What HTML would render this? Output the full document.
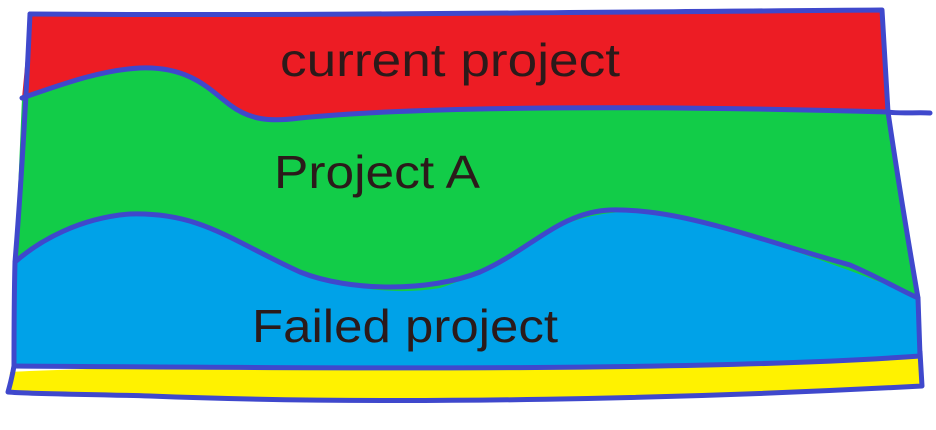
<!DOCTYPE html>
<html><head><meta charset="utf-8"><style>
html,body{margin:0;padding:0;background:#fff;width:936px;height:430px;overflow:hidden}
text{font-family:"Liberation Sans","DejaVu Sans",sans-serif;fill:#2b1a1a}
</style></head><body>
<svg width="936" height="430" viewBox="0 0 936 430" xmlns="http://www.w3.org/2000/svg">
<path d="M10,372 C200,362 600,368 920,352 L922,386 C700,398 400,406 150,396 C80,394 30,394 8,392 Z" fill="#FFF200"/>
<path d="M15,262 C40,240 80,218 130,214 C200,212 230,240 300,272 C350,292 430,292 480,272 C530,250 560,212 610,210 C680,208 760,240 850,265 C880,278 900,290 918,298 L920,356 C700,372 300,368 14,366 Z" fill="#00A2E8"/>
<path d="M22,98 C60,85 100,70 140,68 C190,66 210,90 230,105 C250,120 270,122 300,118 C400,108 600,104 890,112 L916,296 C880,282 800,250 700,222 C640,206 600,210 560,226 C520,244 490,272 440,288 C380,298 320,282 280,262 C230,238 210,216 150,214 C90,214 50,232 15,262 Z" fill="#12CC48"/>
<path d="M30,14 C300,16 600,12 882,10 L888,112 C600,104 400,108 300,118 C270,122 250,120 230,105 C210,90 190,66 140,68 C100,70 60,85 22,98 Z" fill="#ED1C24"/>
<g fill="none" stroke="#3F48CC" stroke-width="5" stroke-linecap="round" stroke-linejoin="round">
<path d="M30,14 C300,16 600,12 882,10 L888,112 C900,114 918,112 930,113"/>
<path d="M30,14 C26,100 20,200 15,262 C14,300 14,340 14,366 C12,378 10,385 8,392 C30,394 80,394 150,396 C400,406 700,398 922,386 L920,352"/>
<path d="M888,112 C898,180 908,240 918,298 L920,356"/>
<path d="M22,98 C60,85 100,70 140,68 C190,66 210,90 230,105 C250,120 270,122 300,118 C400,108 600,104 888,112"/>
<path d="M15,262 C40,240 80,218 130,214 C200,212 230,240 300,272 C350,292 430,292 480,272 C530,250 560,212 610,210 C680,208 760,240 850,265 C880,278 900,290 918,298"/>
<path d="M14,366 C300,368 700,372 920,356"/>
</g>
<text x="280" y="76" font-size="46" textLength="340" lengthAdjust="spacingAndGlyphs">current project</text>
<text x="274" y="188" font-size="46" textLength="206" lengthAdjust="spacingAndGlyphs">Project A</text>
<text x="252" y="342" font-size="46" textLength="306" lengthAdjust="spacingAndGlyphs">Failed project</text>
</svg>
</body></html>
